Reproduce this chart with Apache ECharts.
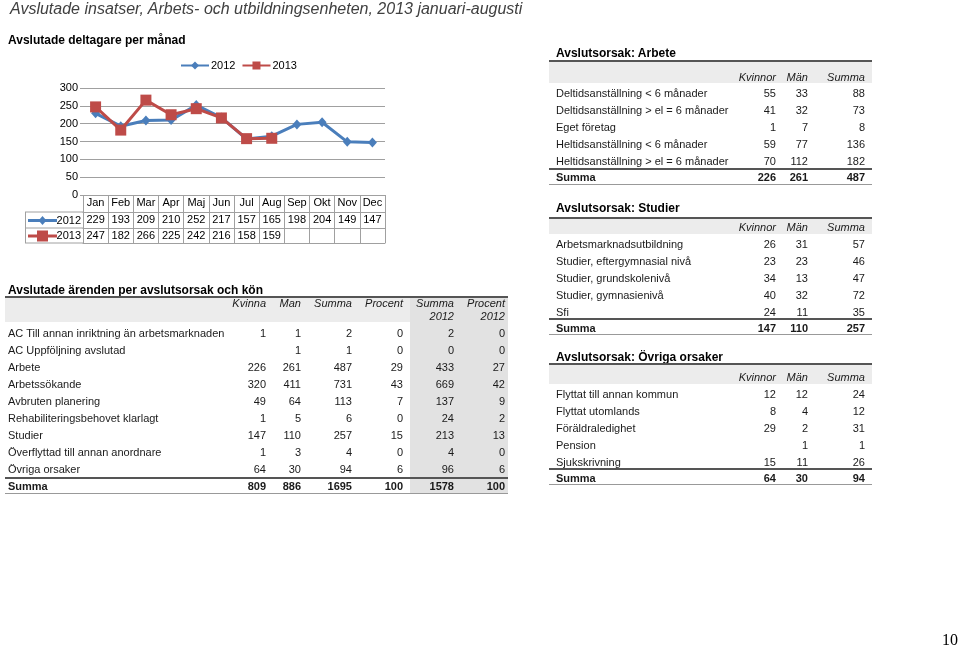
<!DOCTYPE html>
<html>
<head>
<meta charset="utf-8">
<script src="https://cdn.jsdelivr.net/npm/echarts@6/dist/echarts.min.js"></script>
<style>
  body { margin: 0; background: #fff; }
  #page { position: relative; width: 960px; height: 649px; overflow: hidden;
    font-family: "Liberation Sans", Arial, sans-serif; color: #1a1a1a; }
  #chart { position: absolute; left: 0; top: 0; width: 960px; height: 649px; }
  .t { position: absolute; white-space: nowrap; }
  .b { position: absolute; }
</style>
</head>
<body>
<div id="page">
  <div id="chart"></div>
</div>
<script>
// line chart data
var months = ["Jan", "Feb", "Mar", "Apr", "Maj", "Jun", "Jul", "Aug", "Sep", "Okt", "Nov", "Dec"];
var val2012 = [229, 193, 209, 210, 252, 217, 157, 165, 198, 204, 149, 147];
var val2013 = [247, 182, 266, 225, 242, 216, 158, 159];
var yTicks = [0, 50, 100, 150, 200, 250, 300];

// avslutade ärenden per avslutsorsak och kön
var reasons = ["AC Till annan inriktning än arbetsmarknaden", "AC Uppföljning avslutad", "Arbete",
  "Arbetssökande", "Avbruten planering", "Rehabiliteringsbehovet klarlagt", "Studier",
  "Överflyttad till annan anordnare", "Övriga orsaker"];
var kvinna = [1, null, 226, 320, 49, 1, 147, 1, 64];
var man = [1, 1, 261, 411, 64, 5, 110, 3, 30];
var summa = [2, 1, 487, 731, 113, 6, 257, 4, 94];
var procent = [0, 0, 29, 43, 7, 0, 15, 0, 6];
var summa2012 = [2, 0, 433, 669, 137, 24, 213, 4, 96];
var procent2012 = [0, 0, 27, 42, 9, 2, 13, 0, 6];
var reasonTotals = [809, 886, 1695, 100, 1578, 100];

// avslutsorsak: arbete
var arbeteRows = ["Deltidsanställning < 6 månader", "Deltidsanställning > el = 6 månader", "Eget företag",
  "Heltidsanställning < 6 månader", "Heltidsanställning > el = 6 månader"];
var arbeteK = [55, 41, 1, 59, 70];
var arbeteM = [33, 32, 7, 77, 112];
var arbeteS = [88, 73, 8, 136, 182];
var arbeteTot = [226, 261, 487];

// avslutsorsak: studier
var studierRows = ["Arbetsmarknadsutbildning", "Studier, eftergymnasial nivå", "Studier, grundskolenivå",
  "Studier, gymnasienivå", "Sfi"];
var studierK = [26, 23, 34, 40, 24];
var studierM = [31, 23, 13, 32, 11];
var studierS = [57, 46, 47, 72, 35];
var studierTot = [147, 110, 257];

// avslutsorsak: övriga orsaker
var ovrigaRows = ["Flyttat till annan kommun", "Flyttat utomlands", "Föräldraledighet", "Pension", "Sjukskrivning"];
var ovrigaK = [12, 8, 29, null, 15];
var ovrigaM = [12, 4, 2, 1, 11];
var ovrigaS = [24, 12, 31, 1, 26];
var ovrigaTot = [64, 30, 94];

var page = document.getElementById("page");

function txt(s, x, cy, o) {
  o = o || {};
  if (s === null || s === undefined) return;
  var fs = o.size || 11;
  var d = document.createElement("div");
  d.className = "t";
  d.textContent = s;
  d.style.fontSize = fs + "px";
  d.style.lineHeight = (fs * 2) + "px";
  d.style.top = (cy - fs) + "px";
  if (o.align === "right") d.style.right = (960 - x) + "px";
  else d.style.left = x + "px";
  if (o.bold) d.style.fontWeight = "bold";
  if (o.italic) d.style.fontStyle = "italic";
  if (o.color) d.style.color = o.color;
  if (o.font) d.style.fontFamily = o.font;
  page.appendChild(d);
}

function box(x, y, w, h, c) {
  var d = document.createElement("div");
  d.className = "b";
  d.style.left = x + "px";
  d.style.top = y + "px";
  d.style.width = w + "px";
  d.style.height = h + "px";
  d.style.background = c;
  page.appendChild(d);
}

// page titles
txt("Avslutade insatser, Arbets- och utbildningsenheten, 2013 januari-augusti", 10, 9, { size: 16, italic: true, color: "#404040" });
txt("Avslutade deltagare per månad", 8, 40, { size: 12, bold: true, color: "#000" });
txt("10", 958, 640, { size: 16, align: "right", color: "#000", font: "'Liberation Serif', 'Times New Roman', serif" });

// main table
(function () {
  var cols = [266, 301, 352, 403, 454, 505];
  txt("Avslutade ärenden per avslutsorsak och kön", 8, 290, { size: 12, bold: true, color: "#000" });
  box(5, 297, 405, 25, "#ececec");
  box(410, 297, 98, 196, "#e2e2e2");
  box(5, 296, 503, 1.5, "#555");
  var heads = [["Kvinna"], ["Man"], ["Summa"], ["Procent"], ["Summa", "2012"], ["Procent", "2012"]];
  heads.forEach(function (h, j) {
    txt(h[0], cols[j], 303, { align: "right", italic: true });
    if (h[1]) txt(h[1], cols[j], 316, { align: "right", italic: true });
  });
  reasons.forEach(function (r, i) {
    var cy = 332.5 + i * 17.1;
    txt(r, 8, cy);
    [kvinna, man, summa, procent, summa2012, procent2012].forEach(function (arr, j) {
      txt(arr[i], cols[j], cy, { align: "right" });
    });
  });
  box(5, 477, 503, 1.5, "#555");
  txt("Summa", 8, 486, { bold: true });
  reasonTotals.forEach(function (v, j) { txt(v, cols[j], 486, { align: "right", bold: true }); });
  box(5, 493, 503, 1, "#999");
})();

// right hand tables
function smallTable(title, rows, k, m, s, tot, g) {
  var x0 = 549, x1 = 872, tx = 556, cols = [776, 808, 865];
  txt(title, tx, g.title, { size: 12, bold: true, color: "#000" });
  box(x0, g.top, x1 - x0, g.band, "#ececec");
  box(x0, g.top - 1, x1 - x0, 1.5, "#555");
  ["Kvinnor", "Män", "Summa"].forEach(function (h, j) {
    txt(h, cols[j], g.head, { align: "right", italic: true });
  });
  rows.forEach(function (r, i) {
    var cy = g.row0 + i * 17;
    txt(r, tx, cy);
    txt(k[i], cols[0], cy, { align: "right" });
    txt(m[i], cols[1], cy, { align: "right" });
    txt(s[i], cols[2], cy, { align: "right" });
  });
  box(x0, g.sumLine, x1 - x0, 1.5, "#555");
  txt("Summa", tx, g.sum, { bold: true });
  tot.forEach(function (v, j) { txt(v, cols[j], g.sum, { align: "right", bold: true }); });
  box(x0, g.bottom, x1 - x0, 1, "#999");
}
smallTable("Avslutsorsak: Arbete", arbeteRows, arbeteK, arbeteM, arbeteS, arbeteTot,
  { title: 53, top: 61, band: 22, head: 77, row0: 93, sumLine: 168, sum: 177, bottom: 184 });
smallTable("Avslutsorsak: Studier", studierRows, studierK, studierM, studierS, studierTot,
  { title: 208, top: 218, band: 16, head: 227, row0: 243.5, sumLine: 318, sum: 327.5, bottom: 334 });
smallTable("Avslutsorsak: Övriga orsaker", ovrigaRows, ovrigaK, ovrigaM, ovrigaS, ovrigaTot,
  { title: 357, top: 364, band: 20, head: 377, row0: 393.5, sumLine: 468, sum: 477.5, bottom: 484 });

// line chart with data table
var blue = "#4a7ebb", red = "#be4b48", lineGrey = "#a0a0a0";
var gridLeft = 83, gridTop = 88, gridW = 302, gridH = 107;
var font = "'Liberation Sans', Arial, sans-serif";

function rowAxis(offset, vals) {
  return {
    type: "category",
    data: months,
    position: "bottom",
    offset: offset,
    axisLine: { show: true, lineStyle: { color: lineGrey, width: 1 } },
    axisTick: { show: false },
    axisLabel: {
      show: !!vals, interval: 0, margin: 2, fontSize: 11, color: "#000", fontFamily: font,
      formatter: function (v, i) { return vals && vals[i] != null ? String(vals[i]) : ""; }
    }
  };
}

var chart = echarts.init(document.getElementById("chart"), null, { renderer: "canvas" });
var left = 25, keyBottom = gridTop + gridH + 48;
var option = {
  animation: false,
  textStyle: { fontFamily: font },
  legend: {
    left: 180, top: 60, padding: 0, itemWidth: 28, itemHeight: 10, itemGap: 6,
    textStyle: { fontSize: 11, color: "#000", padding: [0, 0, 0, -3] },
    data: ["2012", "2013"]
  },
  grid: { left: gridLeft, top: gridTop, width: gridW, height: gridH },
  yAxis: {
    type: "value", min: yTicks[0], max: yTicks[yTicks.length - 1], interval: 50,
    axisLine: { show: false },
    axisTick: { show: true, length: 3, lineStyle: { color: lineGrey } },
    splitLine: { lineStyle: { color: lineGrey, width: 1 } },
    axisLabel: { fontSize: 11, color: "#000", margin: 5 }
  },
  xAxis: [
    {
      type: "category", data: months, position: "bottom",
      axisLine: { show: true, lineStyle: { color: lineGrey, width: 1 } },
      axisTick: { show: true, interval: 0, length: 48, lineStyle: { color: lineGrey } },
      axisLabel: { interval: 0, margin: 2, fontSize: 11, color: "#000" }
    },
    rowAxis(17, val2012),
    rowAxis(33, val2013),
    rowAxis(48, null)
  ],
  series: [
    {
      name: "2012", type: "line", data: val2012, xAxisIndex: 0,
      symbol: "diamond", symbolSize: [9, 10], z: 2,
      lineStyle: { color: blue, width: 3 }, itemStyle: { color: blue }
    },
    {
      name: "2013", type: "line", data: val2013, xAxisIndex: 0,
      symbol: "rect", symbolSize: 11, z: 3,
      lineStyle: { color: red, width: 3 }, itemStyle: { color: red }
    }
  ],
  graphic: [
    // left key column of the data table
    { type: "line", shape: { x1: left, y1: gridTop + gridH + 17, x2: gridLeft, y2: gridTop + gridH + 17 }, style: { stroke: lineGrey } },
    { type: "line", shape: { x1: left, y1: gridTop + gridH + 33, x2: gridLeft, y2: gridTop + gridH + 33 }, style: { stroke: lineGrey } },
    { type: "line", shape: { x1: left, y1: keyBottom, x2: gridLeft, y2: keyBottom }, style: { stroke: lineGrey } },
    { type: "line", shape: { x1: left + 0.5, y1: gridTop + gridH + 17, x2: left + 0.5, y2: keyBottom }, style: { stroke: lineGrey } },
    { type: "line", shape: { x1: 28, y1: 220.5, x2: 57, y2: 220.5 }, style: { stroke: blue, lineWidth: 3 } },
    { type: "polygon", shape: { points: [[42.5, 216], [46.5, 220.5], [42.5, 225], [38.5, 220.5]] }, style: { fill: blue } },
    { type: "text", style: { text: "2012", x: 81, y: 220.5, align: "right", verticalAlign: "middle", fontSize: 11, fill: "#000", fontFamily: font } },
    { type: "line", shape: { x1: 28, y1: 236, x2: 57, y2: 236 }, style: { stroke: red, lineWidth: 3 } },
    { type: "rect", shape: { x: 37, y: 230.5, width: 11, height: 11 }, style: { fill: red } },
    { type: "text", style: { text: "2013", x: 81, y: 236, align: "right", verticalAlign: "middle", fontSize: 11, fill: "#000", fontFamily: font } }
  ]
};
chart.setOption(option);
</script>
</body>
</html>
